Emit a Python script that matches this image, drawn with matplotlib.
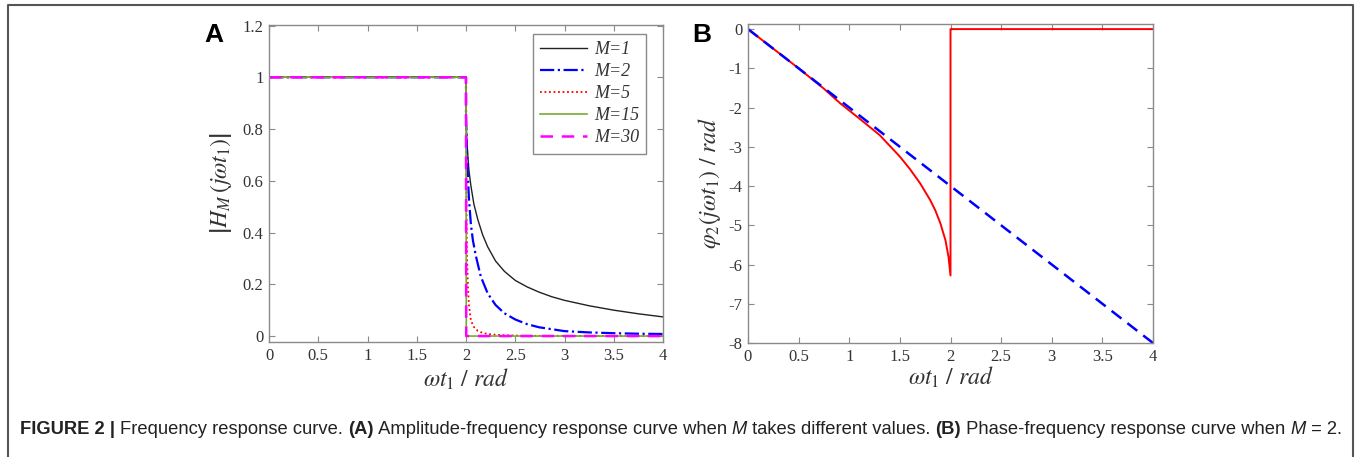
import numpy as np
import matplotlib
matplotlib.use("Agg")
import matplotlib.pyplot as plt
from matplotlib import font_manager
from matplotlib.lines import Line2D

plt.rcParams['font.family'] = ['Liberation Serif', 'DejaVu Serif']
plt.rcParams['mathtext.fontset'] = 'stix'

# panel A: |H_M(j w t1)| for different M
x_m1 = [0, 2.0, 2.0, 2.01, 2.03, 2.05, 2.08, 2.12, 2.17, 2.22, 2.3, 2.39, 2.5, 2.62, 2.74, 2.87, 3.0, 3.25, 3.5, 3.75, 4.0]
y_m1 = [1, 1, 0.85, 0.74, 0.64, 0.58, 0.51, 0.45, 0.39, 0.345, 0.29, 0.25, 0.215, 0.19, 0.17, 0.152, 0.138, 0.117, 0.1, 0.086, 0.074]
x_m2 = [0, 2.0, 2.0, 2.01, 2.02, 2.03, 2.05, 2.07, 2.1, 2.15, 2.22, 2.3, 2.39, 2.5, 2.62, 2.74, 3.0, 3.25, 3.5, 3.75, 4.0]
y_m2 = [1, 1, 0.85, 0.72, 0.61, 0.53, 0.43, 0.37, 0.31, 0.23, 0.165, 0.12, 0.088, 0.064, 0.046, 0.034, 0.019, 0.014, 0.011, 0.009, 0.008]
x_m5 = [0, 2.0, 2.0, 2.005, 2.01, 2.02, 2.03, 2.05, 2.08, 2.12, 2.17, 2.22, 2.3, 2.4, 2.6, 4.0]
y_m5 = [1, 1, 0.85, 0.5, 0.31, 0.19, 0.12, 0.06, 0.035, 0.02, 0.012, 0.008, 0.005, 0.003, 0.001, 0.0]
x_m15 = [0, 2.0, 2.003, 4.0]
y_m15 = [1, 1, 0, 0]
x_m30 = [0, 2.0, 2.002, 4.0]
y_m30 = [1, 1, 0, 0]

# panel B: phase for M = 2 and linear phase
x_phase = [0, 0.25, 0.5, 0.75, 0.91, 1.1, 1.3, 1.5, 1.6, 1.7, 1.8, 1.85, 1.9, 1.95, 1.98, 2.0, 2.0, 4.0]
y_phase = [0, -0.5, -1.0, -1.52, -1.89, -2.28, -2.70, -3.25, -3.57, -3.93, -4.36, -4.62, -4.95, -5.38, -5.8, -6.28, 0, 0]
x_lin = [0, 4]
y_lin = [0, -8]

a_xticks = [0, 0.5, 1, 1.5, 2, 2.5, 3, 3.5, 4]
a_xticklabels = ['0', '0.5', '1', '1.5', '2', '2.5', '3', '3.5', '4']
a_yticks = [0, 0.2, 0.4, 0.6, 0.8, 1, 1.2]
a_yticklabels = ['0', '0.2', '0.4', '0.6', '0.8', '1', '1.2']
b_yticks = [0, -1, -2, -3, -4, -5, -6, -7, -8]
b_yticklabels = ['0', '-1', '-2', '-3', '-4', '-5', '-6', '-7', '-8']

spine_col = '#8a8a8a'
text_col = '#333333'


def style_axes(ax):
    for s in ax.spines.values():
        s.set_color(spine_col)
        s.set_linewidth(1.0)
    ax.tick_params(direction='in', length=4, width=0.8, color=spine_col,
                   top=True, right=True, labelsize=12, labelcolor=text_col, pad=4)


fig = plt.figure(figsize=(13.56, 4.57), dpi=100)

ax1 = fig.add_axes([269 / 1356, 1 - 342 / 457, 394 / 1356, 317 / 457])
ax1.plot(x_m1, y_m1, color='#222222', lw=1.0, label='M=1')
ax1.plot(x_m2, y_m2, color='#0000ff', lw=1.6, ls='-.', label='M=2')
ax1.plot(x_m5, y_m5, color='#ff0000', lw=1.3, ls=(0, (1, 1.5)), label='M=5')
ax1.plot(x_m15, y_m15, color='#77ac30', lw=1.2, label='M=15')
ax1.plot(x_m30, y_m30, color='#ff00ff', lw=1.8, ls=(0, (5, 3.5)), label='M=30')
ax1.set_xlim(0, 4)
ax1.set_ylim(-0.023, 1.202)
ax1.set_xticks(a_xticks, a_xticklabels)
ax1.set_yticks(a_yticks, a_yticklabels)
style_axes(ax1)
ax1.set_xlabel(r'$\omega t_1\ /\ rad$', fontsize=17, color=text_col, labelpad=2)
ax1.set_ylabel(r'$\left|H_M\,(j\omega t_1)\right|$', fontsize=17, color=text_col, labelpad=6)
leg = ax1.legend(loc='upper right', bbox_to_anchor=(0.98, 1.0), fancybox=False,
                 framealpha=1, edgecolor=spine_col, handlelength=2.6, labelspacing=0.28,
                 borderpad=0.4, handletextpad=0.35,
                 prop={'family': 'Liberation Serif', 'style': 'italic', 'size': 13})
for t in leg.get_texts():
    t.set_color(text_col)

ax2 = fig.add_axes([748 / 1356, 1 - 343 / 457, 405 / 1356, 319 / 457])
ax2.plot(x_phase, y_phase, color='#ff0000', lw=1.4)
ax2.plot(x_lin, y_lin, color='#0000ff', lw=1.8, ls=(0, (5, 3)))
ax2.set_xlim(0, 4)
ax2.set_ylim(-8, 0.13)
ax2.set_xticks(a_xticks, a_xticklabels)
ax2.set_yticks(b_yticks, b_yticklabels)
style_axes(ax2)
ax2.set_xlabel(r'$\omega t_1\ /\ rad$', fontsize=17, color=text_col, labelpad=0)
ax2.set_ylabel(r'$\varphi_2(j\omega t_1)\ /\ rad$', fontsize=17, color=text_col, labelpad=4)

fig.text(214 / 1356, 1 - 35 / 457, 'A', fontsize=19, fontweight='bold',
         family='Liberation Sans', ha='center', va='center')
fig.text(702 / 1356, 1 - 35 / 457, 'B', fontsize=19, fontweight='bold',
         family='Liberation Sans', ha='center', va='center')

# outer frame, open at the bottom
frame_col = '#555555'
fx0, fx1, fy = 8 / 1356, 1353 / 1356, 1 - 5 / 457
fig.add_artist(Line2D([fx0, fx0, fx1, fx1], [0, fy, fy, 0], transform=fig.transFigure,
                      color=frame_col, lw=1.5))

# caption, built piece by piece
names = {f.name for f in font_manager.fontManager.ttflist}
cap_family = 'Liberation Sans Narrow' if 'Liberation Sans Narrow' in names else 'Liberation Sans'
pieces = [('FIGURE 2 | ', 'bold', 'normal'),
          ('Frequency response curve. ', 'normal', 'normal'),
          ('(A)', 'bold', 'normal'),
          (' Amplitude-frequency response curve when ', 'normal', 'normal'),
          ('M', 'normal', 'italic'),
          (' takes different values. ', 'normal', 'normal'),
          ('(B)', 'bold', 'normal'),
          (' Phase-frequency response curve when ', 'normal', 'normal'),
          ('M', 'normal', 'italic'),
          (' = 2.', 'normal', 'normal')]

renderer = fig.canvas.get_renderer()
cap_size = 14 if cap_family.endswith('Narrow') else 12


def place_caption(size):
    arts = []
    x = 20
    for txt, w, st in pieces:
        t = fig.text(x / 1356, 1 - 429 / 457, txt, fontsize=size, fontweight=w, style=st,
                     family=cap_family, color='#222222', ha='left', va='center')
        bb = t.get_window_extent(renderer)
        x += bb.width
        arts.append(t)
    return arts, x


arts, end = place_caption(cap_size)
target = 1340
scale = (target - 20) / (end - 20)
for a in arts:
    a.remove()
place_caption(cap_size * scale)

fig.savefig('out.png', dpi=100)
